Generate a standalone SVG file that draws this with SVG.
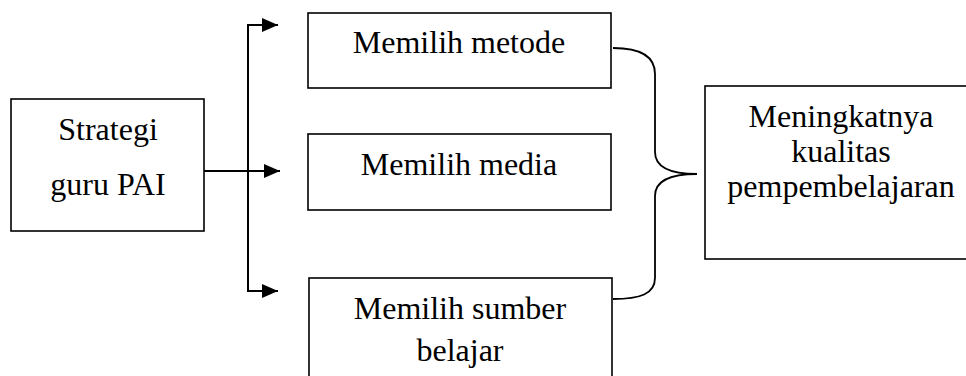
<svg xmlns="http://www.w3.org/2000/svg" width="966" height="376" viewBox="0 0 966 376">
  <defs>
    <style>
      .box { fill: #fff; stroke: #000; stroke-width: 1.6; }
      .lbl { font-family: "Liberation Serif", "Times New Roman", serif; font-size: 32px; fill: #000; text-anchor: middle; }
      .wire { fill: none; stroke: #000; stroke-width: 2; }
      .brace { fill: none; stroke: #000; stroke-width: 1.8; }
    </style>
    <marker id="head" viewBox="0 0 16 14" refX="16" refY="7" markerWidth="16" markerHeight="14" markerUnits="userSpaceOnUse" orient="auto">
      <path d="M0,0 L16,7 L0,14 Z" fill="#000"/>
    </marker>
  </defs>
  <rect width="966" height="376" fill="#fff"/>

  <g id="connectors">
    <!-- trunk from the strategy box to the three choices -->
    <line class="wire" x1="204" y1="171" x2="280" y2="171" marker-end="url(#head)"/>
    <line class="wire" x1="248" y1="24" x2="248" y2="292"/>
    <line class="wire" x1="247" y1="25" x2="278" y2="25" marker-end="url(#head)"/>
    <line class="wire" x1="247" y1="291" x2="278" y2="291" marker-end="url(#head)"/>
    <!-- curly brace gathering the choices -->
    <path class="brace" d="M613,48 C640,48 655,56 655,74 L655,152 C655,168 672,174 697,174 C672,174 655,180 655,196 L655,278 C655,294 640,299 613,299"/>
  </g>

  <g id="strategi">
    <rect class="box" x="11" y="99" width="193" height="132"/>
    <text class="lbl" x="108" y="140">Strategi</text>
    <text class="lbl" x="108" y="195">guru PAI</text>
  </g>

  <g id="metode">
    <rect class="box" x="308" y="13" width="303" height="75"/>
    <text class="lbl" x="459" y="53">Memilih metode</text>
  </g>

  <g id="media">
    <rect class="box" x="308" y="134" width="303" height="76"/>
    <text class="lbl" x="459" y="175">Memilih media</text>
  </g>

  <g id="sumber">
    <rect class="box" x="309" y="278" width="303" height="110"/>
    <text class="lbl" x="460" y="319">Memilih sumber</text>
    <text class="lbl" x="460" y="361">belajar</text>
  </g>

  <g id="kualitas">
    <rect class="box" x="705" y="86" width="272" height="173"/>
    <text class="lbl" x="841" y="127">Meningkatnya</text>
    <text class="lbl" x="841" y="162">kualitas</text>
    <text class="lbl" x="841" y="197">pempembelajaran</text>
  </g>
</svg>
